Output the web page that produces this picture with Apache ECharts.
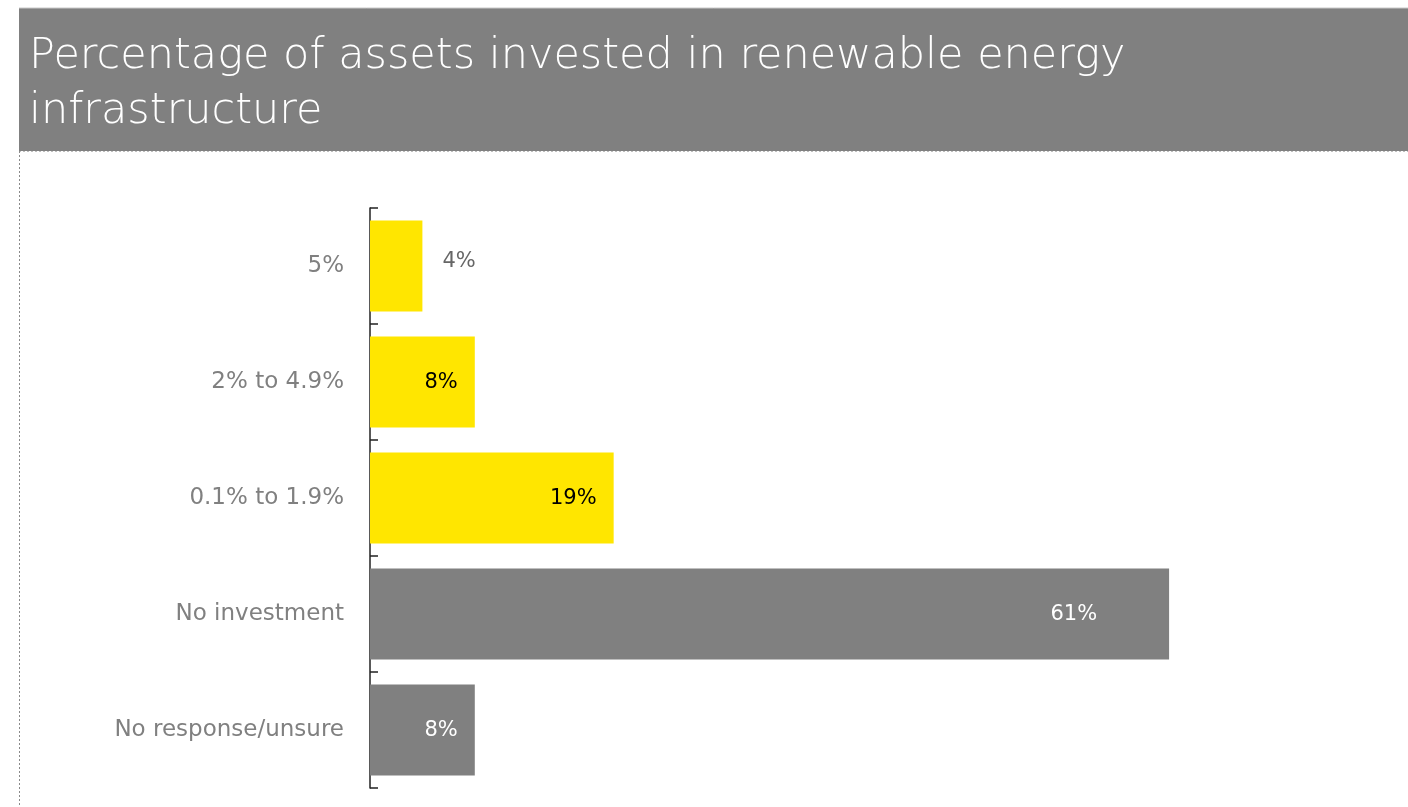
<!DOCTYPE html>
<html>
<head>
<meta charset="utf-8">
<script src="https://cdn.jsdelivr.net/npm/echarts@6/dist/echarts.min.js"></script>
<style>
html,body{margin:0;padding:0;background:#fff;}
#chart{width:1408px;height:807px;}
</style>
</head>
<body>
<div id="chart"></div>
<script>
const titleText = "Percentage of assets invested in renewable energy\ninfrastructure";
const categories = ["5%", "2% to 4.9%", "0.1% to 1.9%", "No investment", "No response/unsure"];
const values = [4, 8, 18.6, 61, 8];
const barColors = ["#ffe600", "#ffe600", "#ffe600", "#808080", "#808080"];
const labelColors = ["#666666", "#000000", "#000000", "#ffffff", "#ffffff"];
const labelPositions = ["right", "insideRight", "insideRight", "insideRight", "insideRight"];
const labelDistances = [20, 17, 17, 72, 17];
const labelOffsets = [[0, -4], [0, 1], [0, 1], [0, 1], [0, 1]];

const chart = echarts.init(document.getElementById('chart'));
const data = values.map((v, i) => ({
  value: v,
  itemStyle: { color: barColors[i] },
  label: { color: labelColors[i], position: labelPositions[i], distance: labelDistances[i], offset: labelOffsets[i] }
}));

chart.setOption({
  animation: false,
  backgroundColor: '#ffffff',
  graphic: [
    { type: 'rect', shape: { x: 19, y: 8, width: 1389, height: 143 }, style: { fill: '#808080' }, z: 0 },
    { type: 'line', shape: { x1: 19, y1: 8, x2: 1408, y2: 8 }, style: { stroke: '#c8c8c8', lineWidth: 1 }, z: 1 },
    { type: 'line', shape: { x1: 19, y1: 151.5, x2: 1408, y2: 151.5 }, style: { stroke: '#bdbdbd', lineWidth: 1, lineDash: [2, 2] }, z: 1 },
    { type: 'line', shape: { x1: 19.5, y1: 151, x2: 19.5, y2: 807 }, style: { stroke: '#8a8a8a', lineWidth: 1, lineDash: [2, 2] }, z: 1 }
  ],
  title: {
    text: titleText,
    left: 24,
    top: 24,
    textStyle: {
      color: '#ffffff',
      fontFamily: 'DejaVu Sans',
      fontWeight: 200,
      fontSize: 43,
      lineHeight: 55
    },
    z: 5
  },
  grid: { left: 370, top: 208, width: 917, height: 580, containLabel: false },
  xAxis: { type: 'value', min: 0, max: 70, show: false },
  yAxis: {
    type: 'category',
    data: categories,
    inverse: true,
    axisLine: { show: true, lineStyle: { color: '#222222', width: 1.5 } },
    axisTick: { show: true, length: 8, inside: true, lineStyle: { color: '#222222', width: 1.5 } },
    axisLabel: { color: '#808080', fontSize: 23, fontFamily: 'DejaVu Sans', margin: 26 },
    splitLine: { show: false }
  },
  series: [{
    type: 'bar',
    data: data,
    barCategoryGap: '21.5%',
    z: 1,
    label: {
      show: true,
      fontSize: 21,
      fontFamily: 'DejaVu Sans',
      formatter: p => Math.round(p.value) + '%'
    }
  }]
});
</script>
</body>
</html>
